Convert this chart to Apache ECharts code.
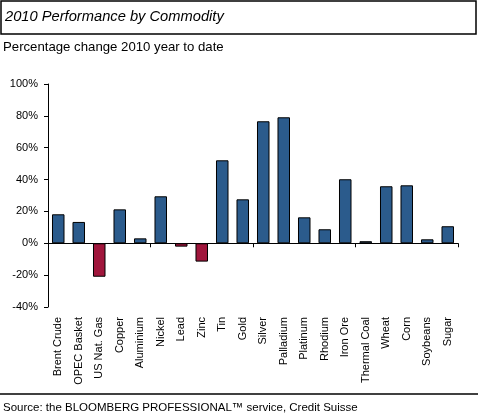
<!DOCTYPE html>
<html>
<head>
<meta charset="utf-8">
<script src="https://cdn.jsdelivr.net/npm/echarts@6/dist/echarts.min.js"></script>
<style>
html, body { margin: 0; padding: 0; background: #fff; }
#chart { width: 478px; height: 419px; }
</style>
</head>
<body>
<div id="chart"></div>
<script>
//商品名称
var commodities = ['Brent Crude', 'OPEC Basket', 'US Nat. Gas', 'Copper', 'Aluminium', 'Nickel', 'Lead', 'Zinc', 'Tin', 'Gold',
	'Silver', 'Palladium', 'Platinum', 'Rhodium', 'Iron Ore', 'Thermal Coal', 'Wheat', 'Corn', 'Soybeans', 'Sugar'];
//2010年涨跌幅(%)
var changes = [18.2, 13.4, -21.0, 21.3, 3.1, 29.5, -2.1, -11.5, 52.1, 27.6,
	76.6, 79.1, 16.3, 8.8, 40.2, 1.3, 35.8, 36.4, 2.5, 10.7];
//纵轴刻度
var yMin = -40;
var yMax = 100;
var yStep = 20;

var upColor = '#2b5b8c';
var downColor = '#a0163c';

var chart = echarts.init(document.getElementById('chart'));
var option = {
	animation: false,
	textStyle: { fontFamily: 'Liberation Sans, Arial, sans-serif' },
	grid: { left: 48, right: 20, top: 84, bottom: 112 },
	xAxis: [{
		//零线及刻度
		type: 'category',
		data: commodities,
		axisLine: { onZero: true, lineStyle: { color: '#000', width: 1 } },
		axisTick: { show: true, length: 4, lineStyle: { color: '#000' } },
		axisLabel: { show: false }
	}, {
		//底部文字
		type: 'category',
		data: commodities,
		position: 'bottom',
		axisLine: { show: false, onZero: false },
		axisTick: { show: false },
		axisLabel: { rotate: 90, interval: 0, fontSize: 11, color: '#000', margin: 10 }
	}],
	yAxis: {
		type: 'value',
		min: yMin,
		max: yMax,
		interval: yStep,
		axisLine: { show: true, lineStyle: { color: '#000', width: 1 } },
		axisTick: { show: true, length: 4, lineStyle: { color: '#000' } },
		splitLine: { show: false },
		axisLabel: { formatter: '{value}%', fontSize: 11, color: '#000', margin: 10 }
	},
	series: [{
		type: 'bar',
		xAxisIndex: 0,
		data: changes.map(function(v) {
			return { value: v, itemStyle: { color: v < 0 ? downColor : upColor } };
		}),
		barCategoryGap: '39%',
		itemStyle: { borderColor: '#000', borderWidth: 1 }
	}],
	graphic: [{
		type: 'rect',
		shape: { x: 1, y: 1, width: 475, height: 33 },
		style: { fill: '#fff', stroke: '#000', lineWidth: 1.5 }
	}, {
		type: 'text',
		left: 5, top: 9,
		style: { text: '2010 Performance by Commodity', font: 'italic 14.7px Liberation Sans, Arial, sans-serif', fill: '#000' }
	}, {
		type: 'text',
		left: 3, top: 41,
		style: { text: 'Percentage change 2010 year to date', font: '13.2px Liberation Sans, Arial, sans-serif', fill: '#000' }
	}, {
		type: 'line',
		shape: { x1: 0, y1: 394, x2: 478, y2: 394 },
		style: { stroke: '#000', lineWidth: 1.5 }
	}, {
		type: 'text',
		left: 3, top: 402,
		style: { text: 'Source: the BLOOMBERG PROFESSIONAL\u2122 service, Credit Suisse', font: '11.5px Liberation Sans, Arial, sans-serif', fill: '#000' }
	}]
};
chart.setOption(option);
</script>
</body>
</html>
